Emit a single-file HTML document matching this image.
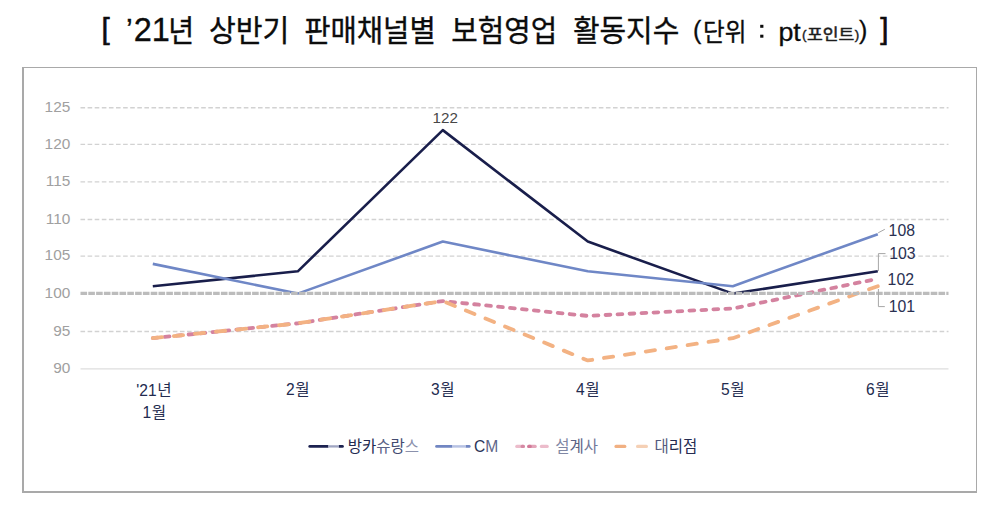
<!DOCTYPE html>
<html lang="ko">
<head>
<meta charset="utf-8">
<title>'21년 상반기 판매채널별 보험영업 활동지수</title>
<style>
html,body{margin:0;padding:0;background:#ffffff;}
body{width:1000px;height:509px;overflow:hidden;font-family:"Liberation Sans","Noto Sans CJK KR",sans-serif;}
svg{display:block;}
svg text{font-family:"Liberation Sans","Noto Sans CJK KR",sans-serif;}
</style>
</head>
<body>
<svg width="1000" height="509" viewBox="0 0 1000 509" role="img" aria-label="'21년 상반기 판매채널별 보험영업 활동지수 (단위 : pt(포인트))">
<desc>[ '21년 상반기 판매채널별 보험영업 활동지수 (단위 : pt(포인트)) ] 방카슈랑스 101 103 122 107 100 103, CM 104 100 107 103 101 108, 설계사 94 96 99 97 98 102, 대리점 94 96 99 91 94 101</desc>
<rect x="0" y="0" width="1000" height="509" fill="#ffffff"/>
<rect x="22" y="67" width="955" height="426" fill="#a9a9a9"/>
<rect x="24" y="68" width="952" height="423" fill="#ffffff"/>
<line x1="80.5" y1="107.75" x2="948.5" y2="107.75" stroke="#d2d2d2" stroke-width="1.4" stroke-dasharray="4.6 2.5"/>
<line x1="80.5" y1="144.4" x2="948.5" y2="144.4" stroke="#d2d2d2" stroke-width="1.4" stroke-dasharray="4.6 2.5"/>
<line x1="80.5" y1="181.9" x2="948.5" y2="181.9" stroke="#d2d2d2" stroke-width="1.4" stroke-dasharray="4.6 2.5"/>
<line x1="80.5" y1="219.45" x2="948.5" y2="219.45" stroke="#d2d2d2" stroke-width="1.4" stroke-dasharray="4.6 2.5"/>
<line x1="80.5" y1="256.1" x2="948.5" y2="256.1" stroke="#d2d2d2" stroke-width="1.4" stroke-dasharray="4.6 2.5"/>
<line x1="80.5" y1="331.5" x2="948.5" y2="331.5" stroke="#d2d2d2" stroke-width="1.4" stroke-dasharray="4.6 2.5"/>
<line x1="80.5" y1="368.85" x2="948.5" y2="368.85" stroke="#dedede" stroke-width="1.3"/>
<text x="70.3" y="112.05" text-anchor="end" font-size="15.4" fill="#a0a0a0">125</text>
<text x="70.3" y="148.7" text-anchor="end" font-size="15.4" fill="#a0a0a0">120</text>
<text x="70.3" y="186.2" text-anchor="end" font-size="15.4" fill="#a0a0a0">115</text>
<text x="70.3" y="223.75" text-anchor="end" font-size="15.4" fill="#a0a0a0">110</text>
<text x="70.3" y="260.4" text-anchor="end" font-size="15.4" fill="#a0a0a0">105</text>
<text x="70.3" y="297.6" text-anchor="end" font-size="15.4" fill="#a0a0a0">100</text>
<text x="70.3" y="335.8" text-anchor="end" font-size="15.4" fill="#a0a0a0">95</text>
<text x="70.3" y="373.15" text-anchor="end" font-size="15.4" fill="#a0a0a0">90</text>
<polyline points="152.8,286.17 297.8,271.31 442.8,130.14 587.8,241.59 732.8,293.6 877.8,271.31" fill="none" stroke="#191e4b" stroke-width="2.6" stroke-linejoin="round" stroke-linecap="butt"/>
<polyline points="152.8,263.88 297.8,293.6 442.8,241.59 587.8,271.31 732.8,286.17 877.8,234.16" fill="none" stroke="#6f87c6" stroke-width="2.6" stroke-linejoin="round" stroke-linecap="butt"/>
<polyline points="152.8,338.18 297.8,323.32 442.8,301.03 587.8,315.89 732.8,308.46 877.8,278.74" fill="none" stroke="#d4829f" stroke-width="3.8" stroke-linejoin="round" stroke-linecap="round" stroke-dasharray="4.8 7.2"/>
<polyline points="152.8,338.18 297.8,323.32 442.8,301.03 587.8,360.47 732.8,338.18 877.8,286.17" fill="none" stroke="#f3b283" stroke-width="3.8" stroke-linejoin="round" stroke-linecap="round" stroke-dasharray="9.3 11.86"/>
<line x1="80.5" y1="293.4" x2="948.5" y2="293.4" stroke="#bcbcbc" stroke-width="3.2" stroke-dasharray="6.6 1.2"/>
<text x="445.2" y="123.3" text-anchor="middle" font-size="15.2" fill="#474747">122</text>
<text x="888.6" y="235.6" font-size="15.8" fill="#2a3152">108</text>
<text x="889.2" y="259.4" font-size="15.8" fill="#2a3152">103</text>
<text x="887.6" y="284.6" font-size="15.8" fill="#2a3152">102</text>
<text x="888.8" y="312.4" font-size="15.8" fill="#2a3152">101</text>
<path d="M878.2 232.8 L884.8 229.3 M878.4 271 V253.6 H885.5 M878.4 289 V306.6 H884.8" fill="none" stroke="#a6a6a6" stroke-width="1"/>
<text x="136.26" y="395.8" font-size="15.6" fill="#232b4f">'21</text>
<text x="157.19" y="395.8" font-size="15.6" fill="#232b4f">년</text>
<text x="142.49" y="417.8" font-size="15.6" fill="#232b4f">1</text>
<text x="151.76" y="417.8" font-size="15.6" fill="#232b4f">월</text>
<text x="286.09" y="395" font-size="15.6" fill="#232b4f">2</text>
<text x="295.36" y="395" font-size="15.6" fill="#232b4f">월</text>
<text x="431.09" y="395" font-size="15.6" fill="#232b4f">3</text>
<text x="440.36" y="395" font-size="15.6" fill="#232b4f">월</text>
<text x="576.09" y="395" font-size="15.6" fill="#232b4f">4</text>
<text x="585.36" y="395" font-size="15.6" fill="#232b4f">월</text>
<text x="721.09" y="395" font-size="15.6" fill="#232b4f">5</text>
<text x="730.36" y="395" font-size="15.6" fill="#232b4f">월</text>
<text x="866.09" y="395" font-size="15.6" fill="#232b4f">6</text>
<text x="875.36" y="395" font-size="15.6" fill="#232b4f">월</text>
<line x1="309.8" y1="446.4" x2="342.4" y2="446.4" stroke="#1c2250" stroke-width="2.9" stroke-linecap="round"/>
<line x1="328.4" y1="446.4" x2="338.8" y2="446.4" stroke="#ffffff" stroke-width="3.4" stroke-linecap="butt"/>
<line x1="328.2" y1="446.4" x2="339" y2="446.4" stroke="#9fa5c2" stroke-width="2.3" stroke-linecap="butt"/>
<line x1="436.6" y1="446.4" x2="469.2" y2="446.4" stroke="#7186c2" stroke-width="2.9" stroke-linecap="round"/>
<line x1="452.2" y1="446.4" x2="465.6" y2="446.4" stroke="#ffffff" stroke-width="3.4" stroke-linecap="butt"/>
<line x1="452" y1="446.4" x2="465.8" y2="446.4" stroke="#b7c2e3" stroke-width="2.5" stroke-linecap="butt"/>
<line x1="516.8" y1="446.4" x2="523.2" y2="446.4" stroke="#ecbccb" stroke-width="3.2" stroke-linecap="round"/>
<line x1="522.2" y1="446.4" x2="523.4" y2="446.4" stroke="#d58aa4" stroke-width="3.2" stroke-linecap="round"/>
<line x1="528.8" y1="446.4" x2="535.2" y2="446.4" stroke="#e3a6ba" stroke-width="3.2" stroke-linecap="round"/>
<line x1="528.8" y1="446.4" x2="530.2" y2="446.4" stroke="#d27a98" stroke-width="3.2" stroke-linecap="round"/>
<line x1="541.4" y1="446.4" x2="547.2" y2="446.4" stroke="#ecbccb" stroke-width="3.2" stroke-linecap="round"/>
<line x1="616" y1="446.4" x2="624.8" y2="446.4" stroke="#f1b082" stroke-width="3.2" stroke-linecap="round"/>
<line x1="637.6" y1="446.4" x2="646.4" y2="446.4" stroke="#f5d0b5" stroke-width="3.2" stroke-linecap="round"/>
<text x="347.8" y="451.6" font-size="15.5" fill="#232a50"><tspan fill="#232a50">방</tspan><tspan fill="#232a50">카</tspan><tspan fill="#5a6286">슈</tspan><tspan fill="#434b70">랑</tspan><tspan fill="#8b91ac">스</tspan></text>
<text x="474" y="451.7" font-size="15.6" fill="#2b3359">C</text><text x="485.3" y="451.7" font-size="15.6" fill="#5d6588">M</text>
<text x="555.2" y="451.6" font-size="15.5" fill="#5a6285"><tspan fill="#8087a4">설</tspan><tspan fill="#5a6285">계</tspan><tspan fill="#747b9a">사</tspan></text>
<text x="654.4" y="451.6" font-size="15.5" fill="#252c52"><tspan fill="#535b7e">대</tspan><tspan fill="#252c52">리</tspan><tspan fill="#252c52">점</tspan></text>
<text x="101.5" y="38.7" font-size="29.6" fill="#0c0c0c" stroke="#0c0c0c" stroke-width="0.6">[</text>
<text x="126" y="38.5" font-size="30" fill="#0c0c0c" stroke="#0c0c0c" stroke-width="0.35">’</text>
<text x="133.8" y="41.29" font-size="32.5" fill="#0c0c0c" stroke="#0c0c0c" stroke-width="0.3">21</text>
<text x="168.27" y="41.3" font-size="30" fill="#0c0c0c" stroke="#0c0c0c" stroke-width="0.35" textLength="25.9" lengthAdjust="spacingAndGlyphs">년</text>
<text x="208.93" y="41.3" font-size="30" fill="#0c0c0c" stroke="#0c0c0c" stroke-width="0.35" textLength="80.5" lengthAdjust="spacingAndGlyphs">상반기</text>
<text x="304.14" y="41.3" font-size="30" fill="#0c0c0c" stroke="#0c0c0c" stroke-width="0.35" textLength="131.6" lengthAdjust="spacingAndGlyphs">판매채널별</text>
<text x="451.2" y="41.3" font-size="30" fill="#0c0c0c" stroke="#0c0c0c" stroke-width="0.35" textLength="106" lengthAdjust="spacingAndGlyphs">보험영업</text>
<text x="572.88" y="41.3" font-size="30" fill="#0c0c0c" stroke="#0c0c0c" stroke-width="0.35" textLength="106.5" lengthAdjust="spacingAndGlyphs">활동지수</text>
<text x="693" y="38.8" font-size="25" fill="#0c0c0c" stroke="#0c0c0c" stroke-width="0.3">(</text>
<text x="703.1" y="41.1" font-size="24.9" fill="#0c0c0c" stroke="#0c0c0c" stroke-width="0.3" textLength="43.4" lengthAdjust="spacingAndGlyphs">단위</text>
<rect x="760.2" y="24.8" width="3.2" height="3" fill="#0c0c0c"/><rect x="760.2" y="34.7" width="3.2" height="3" fill="#0c0c0c"/>
<text x="778.4" y="40.5" font-size="25.5" fill="#0c0c0c" stroke="#0c0c0c" stroke-width="0.3" textLength="22.4" lengthAdjust="spacingAndGlyphs">pt</text>
<text x="802" y="39.1" font-size="13.5" fill="#1c1c1c" stroke="#1c1c1c" stroke-width="0.4">(</text>
<text x="807.03" y="40.4" font-size="16" fill="#1c1c1c" stroke="#1c1c1c" stroke-width="0.5" textLength="47.3" lengthAdjust="spacingAndGlyphs">포인트</text>
<text x="854.8" y="39.1" font-size="13.5" fill="#1c1c1c" stroke="#1c1c1c" stroke-width="0.4">)</text>
<text x="859" y="38.8" font-size="25" fill="#0c0c0c" stroke="#0c0c0c" stroke-width="0.3">)</text>
<text x="880.3" y="38.8" font-size="29.6" fill="#0c0c0c" stroke="#0c0c0c" stroke-width="0.6">]</text>
</svg>
</body>
</html>
